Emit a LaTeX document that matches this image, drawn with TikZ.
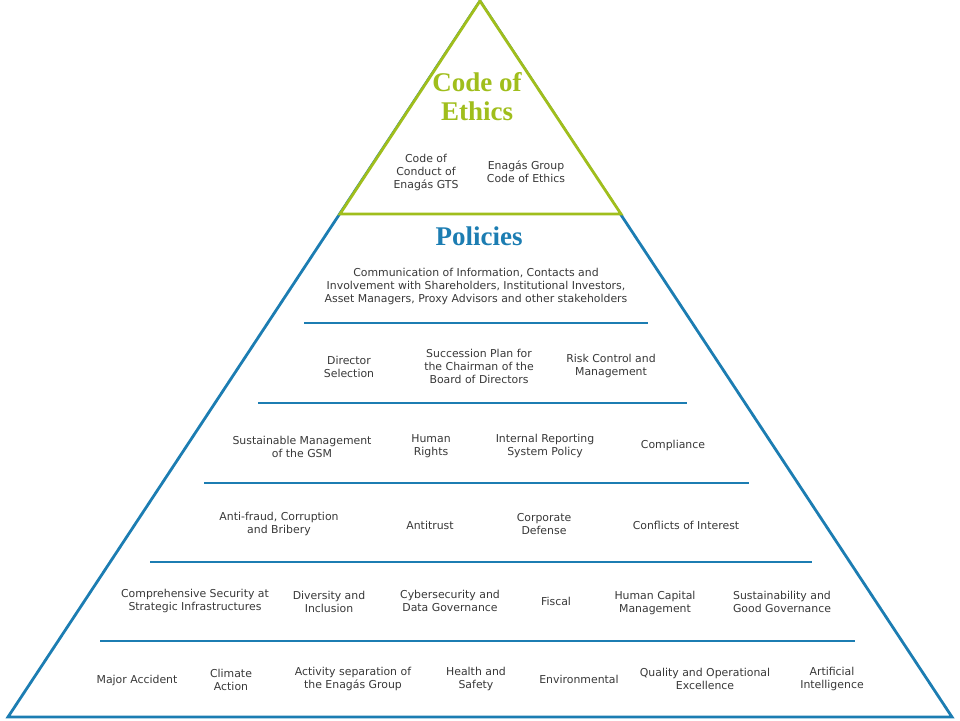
\documentclass[tikz,border=0pt]{standalone}
\usepackage{fontspec}
\setmainfont{DejaVu Sans}
\newfontfamily\headfont{Liberation Serif}
\usepackage{xcolor}
\usetikzlibrary{positioning, calc}

\definecolor{ethicsgreen}{RGB}{160,190,28}
\definecolor{policyblue}{RGB}{28,125,178}
\definecolor{labelgray}{RGB}{56,56,56}

\tikzset{
  item/.style={align=center, text=labelgray, font=\fontsize{10.9}{13}\selectfont, inner sep=0pt},
  heading/.style={align=center, font=\headfont\bfseries\fontsize{27}{29}\selectfont, inner sep=0pt},
  rule/.style={policyblue, line width=1.6pt}
}

\begin{document}
\begin{tikzpicture}[x=1pt, y=-1pt]
  \useasboundingbox (0,0) rectangle (960,720);

  % pyramid corners
  \coordinate (apex) at (480,1);
  \coordinate (baseL) at (8,717);
  \coordinate (baseR) at (952,717);
  \coordinate (ethL) at (340,214);
  \coordinate (ethR) at (621,214);

  \draw[policyblue, line width=2.8pt, line join=miter] (apex) -- (baseL) -- (baseR) -- cycle;
  \draw[ethicsgreen, line width=2.8pt, line join=miter, fill=white] (apex) -- (ethL) -- (ethR) -- cycle;

  % code of ethics
  \node[heading, text=ethicsgreen] (ethics) at (477,97) {Code of\\Ethics};
  \node[item] (conduct) at (426,172) {Code of\\Conduct of\\Enagás GTS};
  \node[item] (groupcode) at (526,172) {Enagás Group\\Code of Ethics};

  % policies
  \node[heading, text=policyblue] (policies) at (479,236) {Policies};
  \node[item] (communication) at (476,286) {Communication of Information, Contacts and\\Involvement with Shareholders, Institutional Investors,\\Asset Managers, Proxy Advisors and other stakeholders};

  % separators
  \coordinate (s1a) at (304,323); \coordinate (s1b) at (648,323);
  \coordinate (s2a) at (258,403); \coordinate (s2b) at (687,403);
  \coordinate (s3a) at (204,483); \coordinate (s3b) at (749,483);
  \coordinate (s4a) at (150,562); \coordinate (s4b) at (812,562);
  \coordinate (s5a) at (100,641); \coordinate (s5b) at (855,641);
  \foreach \s in {1,...,5}
    \draw[rule] (s\s a) -- (s\s b);

  % row 2
  \node[item] (director) at (349,367) {Director\\Selection};
  \node[item] (succession) at (479,366) {Succession Plan for\\the Chairman of the\\Board of Directors};
  \node[item] (risk) at (611,366) {Risk Control and\\Management};

  % row 3
  \node[item] (gsm) at (302,447) {Sustainable Management\\of the GSM};
  \node[item] (rights) at (431,446) {Human\\Rights};
  \node[item] (reporting) at (545,446) {Internal Reporting\\System Policy};
  \node[item] (compliance) at (673,445) {Compliance};

  % row 4
  \node[item] (antifraud) at (279,524) {Anti-fraud, Corruption\\and Bribery};
  \node[item] (antitrust) at (430,525) {Antitrust};
  \node[item] (defense) at (544,524) {Corporate\\Defense};
  \node[item] (conflicts) at (686,525) {Conflicts of Interest};

  % row 5
  \node[item] (security) at (195,601) {Comprehensive Security at\\Strategic Infrastructures};
  \node[item] (diversity) at (329,602) {Diversity and\\Inclusion};
  \node[item] (cyber) at (450,601) {Cybersecurity and\\Data Governance};
  \node[item] (fiscal) at (556,601) {Fiscal};
  \node[item] (capital) at (655,603) {Human Capital\\Management};
  \node[item] (sustain) at (782,602) {Sustainability and\\Good Governance};

  % row 6
  \node[item] (accident) at (137,680) {Major Accident};
  \node[item] (climate) at (231,680) {Climate\\Action};
  \node[item] (separation) at (353,679) {Activity separation of\\the Enagás Group};
  \node[item] (health) at (476,679) {Health and\\Safety};
  \node[item] (environment) at (579,679) {Environmental};
  \node[item] (quality) at (705,679) {Quality and Operational\\Excellence};
  \node[item] (ai) at (832,679) {Artificial\\Intelligence};
\end{tikzpicture}
\end{document}
